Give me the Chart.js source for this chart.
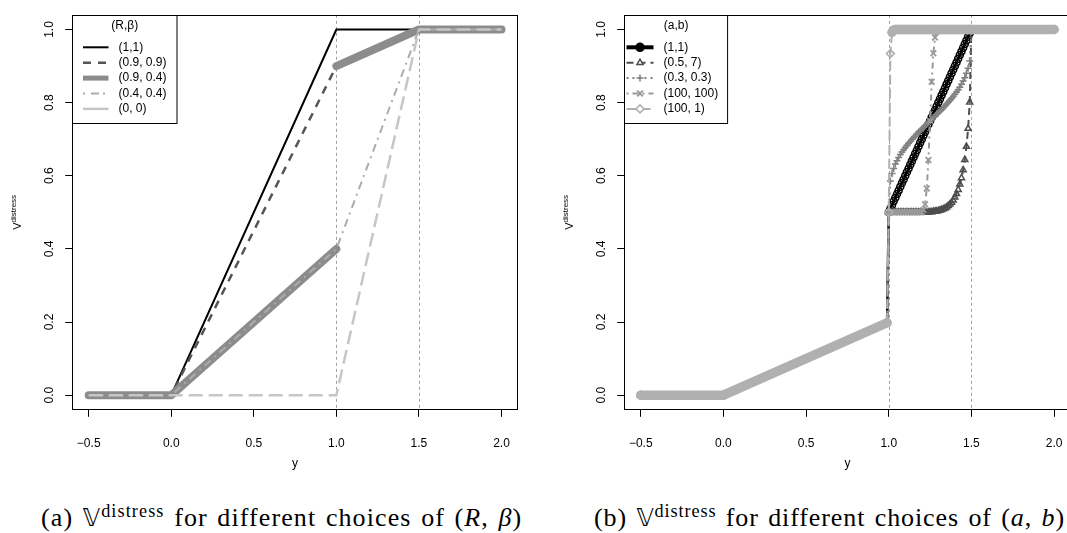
<!DOCTYPE html>
<html><head><meta charset="utf-8">
<script src="https://cdn.jsdelivr.net/npm/chart.js"></script>
<style>
html,body{margin:0;padding:0;background:#fff;overflow:hidden;width:1067px;height:533px;}
#wa{position:absolute;left:0;top:0;width:533px;height:480px;}
#wb{position:absolute;left:533px;top:0;width:550px;height:480px;}
.cap{position:absolute;top:505px;font-family:'Liberation Serif','DejaVu Serif',serif;font-size:26px;line-height:26px;white-space:nowrap;color:#000;letter-spacing:1px;word-spacing:2px;}
.cap sup{font-size:0.7em;vertical-align:0.5em;line-height:0;}
.bb{font-family:'DejaVu Sans','DejaVu Serif',sans-serif;font-size:0.92em;}
#capa{left:41px;letter-spacing:1.1px;}
#capb{left:594px;letter-spacing:0.9px;word-spacing:2px;}
</style></head>
<body>
<div id="wa"><canvas id="ca"></canvas></div>
<div id="wb"><canvas id="cb"></canvas></div>
<div class="cap" id="capa">(a) <span class="bb">𝕍</span><sup>distress</sup> for different choices of (<i>R</i>, <i>β</i>)</div>
<div class="cap" id="capb">(b) <span class="bb">𝕍</span><sup>distress</sup> for different choices of (<i>a</i>, <i>b</i>)</div>
<script>
// ---------- data ----------
const xTicks = [-0.5, 0, 0.5, 1, 1.5, 2];
const xTickLabels = ['\u22120.5', '0.0', '0.5', '1.0', '1.5', '2.0'];
const yTicks = [0, 0.2, 0.4, 0.6, 0.8, 1.0];
const yTickLabels = ['0.0', '0.2', '0.4', '0.6', '0.8', '1.0'];
const xTitle = 'y';
const vLines = [1, 1.5];

// panel (a): (R, beta)
const labelsA = ['(1,1)', '(0.9, 0.9)', '(0.9, 0.4)', '(0.4, 0.4)', '(0, 0)'];
const xA    = [-0.5, 0, 1,   1,    1,   1.5, 2];
const a11   = [0,    0, 1,   1,    1,   1,   1];
const a0909 = [0,    0, 0.9, 0.9,  0.9, 1,   1];
const a0904 = [0,    0, 0.4, null, 0.9, 1,   1];
const a0404 = [0,    0, 0.4, 0.4,  0.4, 1,   1];
const a00   = [0,    0, 0,   0,    0,   1,   1];

// panel (b): (a, b)
const labelsB = ['(1,1)', '(0.5, 7)', '(0.3, 0.3)', '(100, 100)', '(100, 1)'];
const xB = [-0.5, 0, 0.99,
  1.00,1.01,1.02,1.03,1.04,1.05,1.06,1.07,1.08,1.09,1.10,1.11,1.12,1.13,1.14,1.15,1.16,1.17,1.18,1.19,1.20,
  1.21,1.22,1.23,1.24,1.25,1.26,1.27,1.28,1.29,1.30,1.31,1.32,1.33,1.34,1.35,1.36,1.37,1.38,1.39,1.40,
  1.41,1.42,1.43,1.44,1.45,1.46,1.47,1.48,1.49,1.50, 2.0];
const b11 = [0, 0, 0.198,
  0.50,0.51,0.52,0.53,0.54,0.55,0.56,0.57,0.58,0.59,0.60,0.61,0.62,0.63,0.64,0.65,0.66,0.67,0.68,0.69,0.70,
  0.71,0.72,0.73,0.74,0.75,0.76,0.77,0.78,0.79,0.80,0.81,0.82,0.83,0.84,0.85,0.86,0.87,0.88,0.89,0.90,
  0.91,0.92,0.93,0.94,0.95,0.96,0.97,0.98,0.99,1.00, 1];
const b057 = [0, 0, 0.198,
  0.5,0.5,0.5,0.5,0.5,0.5,0.5,0.5,0.5,0.5,0.5,0.5,0.5,0.5,0.5,0.5,0.5,0.5,0.5,0.5,0.5,
  0.5,0.5,0.5,0.5,0.501,0.501,0.502,0.503,0.503,0.504,0.506,0.507,0.509,0.511,0.514,0.518,0.522,0.527,0.533,0.541,
  0.551,0.562,0.577,0.594,0.616,0.644,0.680,0.729,0.801,1.0, 1];
const b0303 = [0, 0, 0.198,
  0.5,0.586,0.606,0.620,0.632,0.641,0.650,0.658,0.665,0.671,0.677,0.683,0.689,0.694,0.699,0.704,0.709,0.714,0.719,0.723,0.728,
  0.732,0.737,0.741,0.746,0.750,0.754,0.759,0.763,0.768,0.772,0.777,0.781,0.786,0.791,0.796,0.801,0.806,0.811,0.817,0.823,
  0.829,0.835,0.842,0.850,0.859,0.868,0.880,0.894,0.914,1.0, 1];
const b100100 = [0, 0, 0.198,
  0.5,0.5,0.5,0.5,0.5,0.5,0.5,0.5,0.5,0.5,0.5,0.5,0.5,0.5,0.5,0.5,0.5,0.5,0.5,0.5,0.5,
  0.506,0.522,0.565,0.643,0.750,0.857,0.935,0.978,0.994,0.999,1,1,1,1,1,1,1,1,1,1,
  1,1,1,1,1,1,1,1,1,1, 1];
const b1001 = [0, 0, 0.198,
  0.5,0.934,0.992,0.999,1,1,1,1,1,1,1,1,1,1,1,1,1,1,1,1,1,
  1,1,1,1,1,1,1,1,1,1,1,1,1,1,1,1,1,1,1,1,
  1,1,1,1,1,1,1,1,1,1, 1];

// ---------- helpers ----------
const FONT = "'Liberation Sans', Arial, Helvetica, sans-serif";
const pts = (xs, ys) => xs.map((x, i) => ({x: x, y: ys[i]}));

function makeScales(yWidth) {
  const grid = {display: true, drawOnChartArea: false, drawTicks: true, tickLength: 7, color: '#000', lineWidth: 1};
  return {
    x: {
      type: 'linear', min: -0.6, max: 2.1, bounds: 'data',
      afterBuildTicks: s => { s.ticks = xTicks.map(v => ({value: v})); },
      afterFit: s => { s.height = 70.2; },
      ticks: {autoSkip: false, minRotation: 0, maxRotation: 0, padding: 19.3, color: '#000',
              font: {family: FONT, size: 12}, callback: (v, i) => xTickLabels[i]},
      grid: grid, border: {display: false},
      title: {display: true, text: xTitle, color: '#000', font: {family: FONT, size: 12}, padding: {top: 0, bottom: 9.1}}
    },
    y: {
      type: 'linear', min: -0.04, max: 1.04, bounds: 'data',
      afterBuildTicks: s => { s.ticks = yTicks.map(v => ({value: v})); },
      afterFit: s => { s.width = yWidth; },
      ticks: {autoSkip: false, minRotation: 90, maxRotation: 90, crossAlign: 'center', padding: 7.65, color: '#000',
              font: {family: FONT, size: 12}, callback: (v, i) => yTickLabels[i]},
      grid: grid, border: {display: false},
      title: {display: false}
    }
  };
}

const framePlugin = {
  id: 'frame',
  beforeDatasetsDraw(chart) {
    const {ctx, chartArea: a, scales: {x}} = chart;
    ctx.save();
    ctx.strokeStyle = '#a0a0a0'; ctx.lineWidth = 1; ctx.setLineDash([3, 3]);
    vLines.forEach(v => {
      const px = Math.round(x.getPixelForValue(v)) + 0.5;
      ctx.beginPath(); ctx.moveTo(px, a.top); ctx.lineTo(px, a.bottom); ctx.stroke();
    });
    ctx.restore();
  },
  afterDraw(chart) {
    const {ctx, chartArea: a} = chart;
    const L = chart.options.plugins.frame;
    ctx.save();
    // box
    ctx.strokeStyle = '#000'; ctx.lineWidth = 1; ctx.setLineDash([]);
    const l = Math.round(a.left) + 0.5, t = Math.round(a.top) + 0.5, r = Math.round(a.right) - 0.5, b = Math.round(a.bottom) - 0.5;
    ctx.strokeRect(l, t, r - l, b - t);
    // y title: V^distress (rotated)
    const cy = (a.top + a.bottom) / 2, bx = a.left - 51;
    ctx.save();
    ctx.translate(bx, cy); ctx.rotate(-Math.PI / 2);
    ctx.fillStyle = '#000'; ctx.textBaseline = 'alphabetic'; ctx.textAlign = 'left';
    ctx.font = '11px ' + FONT; const wV = ctx.measureText('V').width;
    ctx.font = '8px ' + FONT; const wS = ctx.measureText('distress').width;
    const x0 = -(wV + wS) / 2;
    ctx.font = '11px ' + FONT; ctx.fillText('V', x0, 0);
    ctx.font = '8px ' + FONT; ctx.fillText('distress', x0 + wV, -5);
    ctx.restore();
    // legend
    const lx = l, ly = t, lw = L.width, lh = L.height;
    ctx.fillStyle = '#fff'; ctx.fillRect(lx, ly, lw, lh);
    ctx.strokeStyle = '#000'; ctx.lineWidth = 1; ctx.strokeRect(lx, ly, lw, lh);
    ctx.fillStyle = '#000'; ctx.font = '12px ' + FONT; ctx.textBaseline = 'middle';
    ctx.textAlign = 'center'; ctx.fillText(L.title, lx + lw / 2, ly + L.titleDY);
    ctx.textAlign = 'left';
    chart.data.datasets.forEach((d, i) => {
      const yy = ly + L.rowDY + L.rowStep * i;
      ctx.save();
      ctx.strokeStyle = d.borderColor; ctx.lineWidth = d.legendWidth || d.borderWidth;
      ctx.setLineDash(d.legendDash || d.borderDash || []);
      ctx.lineCap = 'butt';
      ctx.beginPath(); ctx.moveTo(lx + L.s0, yy); ctx.lineTo(lx + L.s1, yy); ctx.stroke();
      ctx.setLineDash([]);
      if (L.marker && d.pointStyle) {
        ctx.fillStyle = d.legendFill || '#fff';
        ctx.strokeStyle = d.borderColor;
        ctx.lineWidth = d.pointBorderWidth;
        Chart.helpers.drawPoint(ctx, {pointStyle: d.pointStyle, radius: d.legendRadius || d.pointRadius, borderWidth: d.pointBorderWidth, rotation: 0},
          lx + (L.s0 + L.s1) / 2, yy);
      }
      ctx.restore();
      ctx.fillStyle = '#000';
      ctx.fillText(d.label, lx + L.tx, yy);
    });
    ctx.restore();
  }
};

function build(id, datasets, yWidth, padRight, legendCfg) {
  datasets.forEach((d, i) => { d.order = datasets.length - i; });
  return new Chart(document.getElementById(id), {
    type: 'line',
    data: {datasets: datasets},
    options: {
      responsive: true, maintainAspectRatio: false, animation: false,
      layout: {padding: {left: 0, top: 9.9, right: padRight, bottom: 0}},
      scales: makeScales(yWidth),
      plugins: {legend: {display: false}, tooltip: {enabled: false}, frame: legendCfg},
      elements: {line: {tension: 0}},
      events: []
    },
    plugins: [framePlugin]
  });
}

// ---------- panel (a) ----------
const baseA = {pointRadius: 0, fill: false, spanGaps: false, borderJoinStyle: 'round'};
const dsA = [
  Object.assign({label: labelsA[0], data: pts(xA, a11),   borderColor: '#000000', borderWidth: 2}, baseA),
  Object.assign({label: labelsA[1], data: pts(xA, a0909), borderColor: '#555555', borderWidth: 2.5, borderDash: [8, 7]}, baseA),
  Object.assign({label: labelsA[2], data: pts(xA, a0904), borderColor: '#8c8c8c', borderWidth: 8, borderCapStyle: 'round', legendWidth: 5}, baseA),
  Object.assign({label: labelsA[3], data: pts(xA, a0404), borderColor: '#acacac', borderWidth: 2, borderDash: [2, 5, 8, 5], legendDash: [2, 6, 8, 4]}, baseA),
  Object.assign({label: labelsA[4], data: pts(xA, a00),   borderColor: '#c6c6c6', borderWidth: 2.5, borderDash: [14, 6], legendDash: []}, baseA)
];
build('ca', dsA, 72.2, 15, {title: '(R,\u03b2)', width: 104.5, height: 108, titleDY: 10.5, rowDY: 31.8, rowStep: 15.4, s0: 10.5, s1: 36, tx: 46, marker: false});

// ---------- panel (b) ----------
const isBand = c => (c.p1.parsed.x <= 0.99 + 1e-9) || (c.p0.parsed.y >= 0.99 && c.p1.parsed.y >= 0.99);
const baseB = {fill: false, spanGaps: false, pointBackgroundColor: 'rgba(0,0,0,0)', pointBorderWidth: 1.5, borderJoinStyle: 'round'};
const dsB = [
  Object.assign({label: labelsB[0], data: pts(xB, b11),     borderColor: '#000000', borderWidth: 2.5, pointStyle: 'circle',   pointRadius: 3.5, legendWidth: 4, legendFill: '#000', legendRadius: 4}, baseB),
  Object.assign({label: labelsB[1], data: pts(xB, b057),    borderColor: '#4d4d4d', borderWidth: 2,   pointStyle: 'triangle', pointRadius: 3.5, borderDash: [7, 5]}, baseB),
  Object.assign({label: labelsB[2], data: pts(xB, b0303),   borderColor: '#808080', borderWidth: 2,   pointStyle: 'cross',    pointRadius: 3.5, borderDash: [2, 4]}, baseB),
  Object.assign({label: labelsB[3], data: pts(xB, b100100), borderColor: '#999999', borderWidth: 2,   pointStyle: 'crossRot', pointRadius: 4,   borderDash: [2, 4, 6, 4]}, baseB),
  Object.assign({label: labelsB[4], data: pts(xB, b1001),   borderColor: '#b0b0b0', borderWidth: 2,   pointStyle: 'rectRot',  pointRadius: 4,   borderDash: [10, 4],
    segment: {
      borderWidth: c => isBand(c) ? 9.5 : undefined,
      borderDash: c => isBand(c) ? [] : undefined,
      borderCapStyle: c => isBand(c) ? 'round' : undefined
    }}, baseB)
];
dsB[3].pointBorderWidth = 1.8;
build('cb', dsB, 91.2, 12.4, {title: '(a,b)', width: 103.1, height: 108, titleDY: 10.5, rowDY: 31.8, rowStep: 15.4, s0: 2, s1: 29, tx: 39, marker: true});
</script>
</body></html>
